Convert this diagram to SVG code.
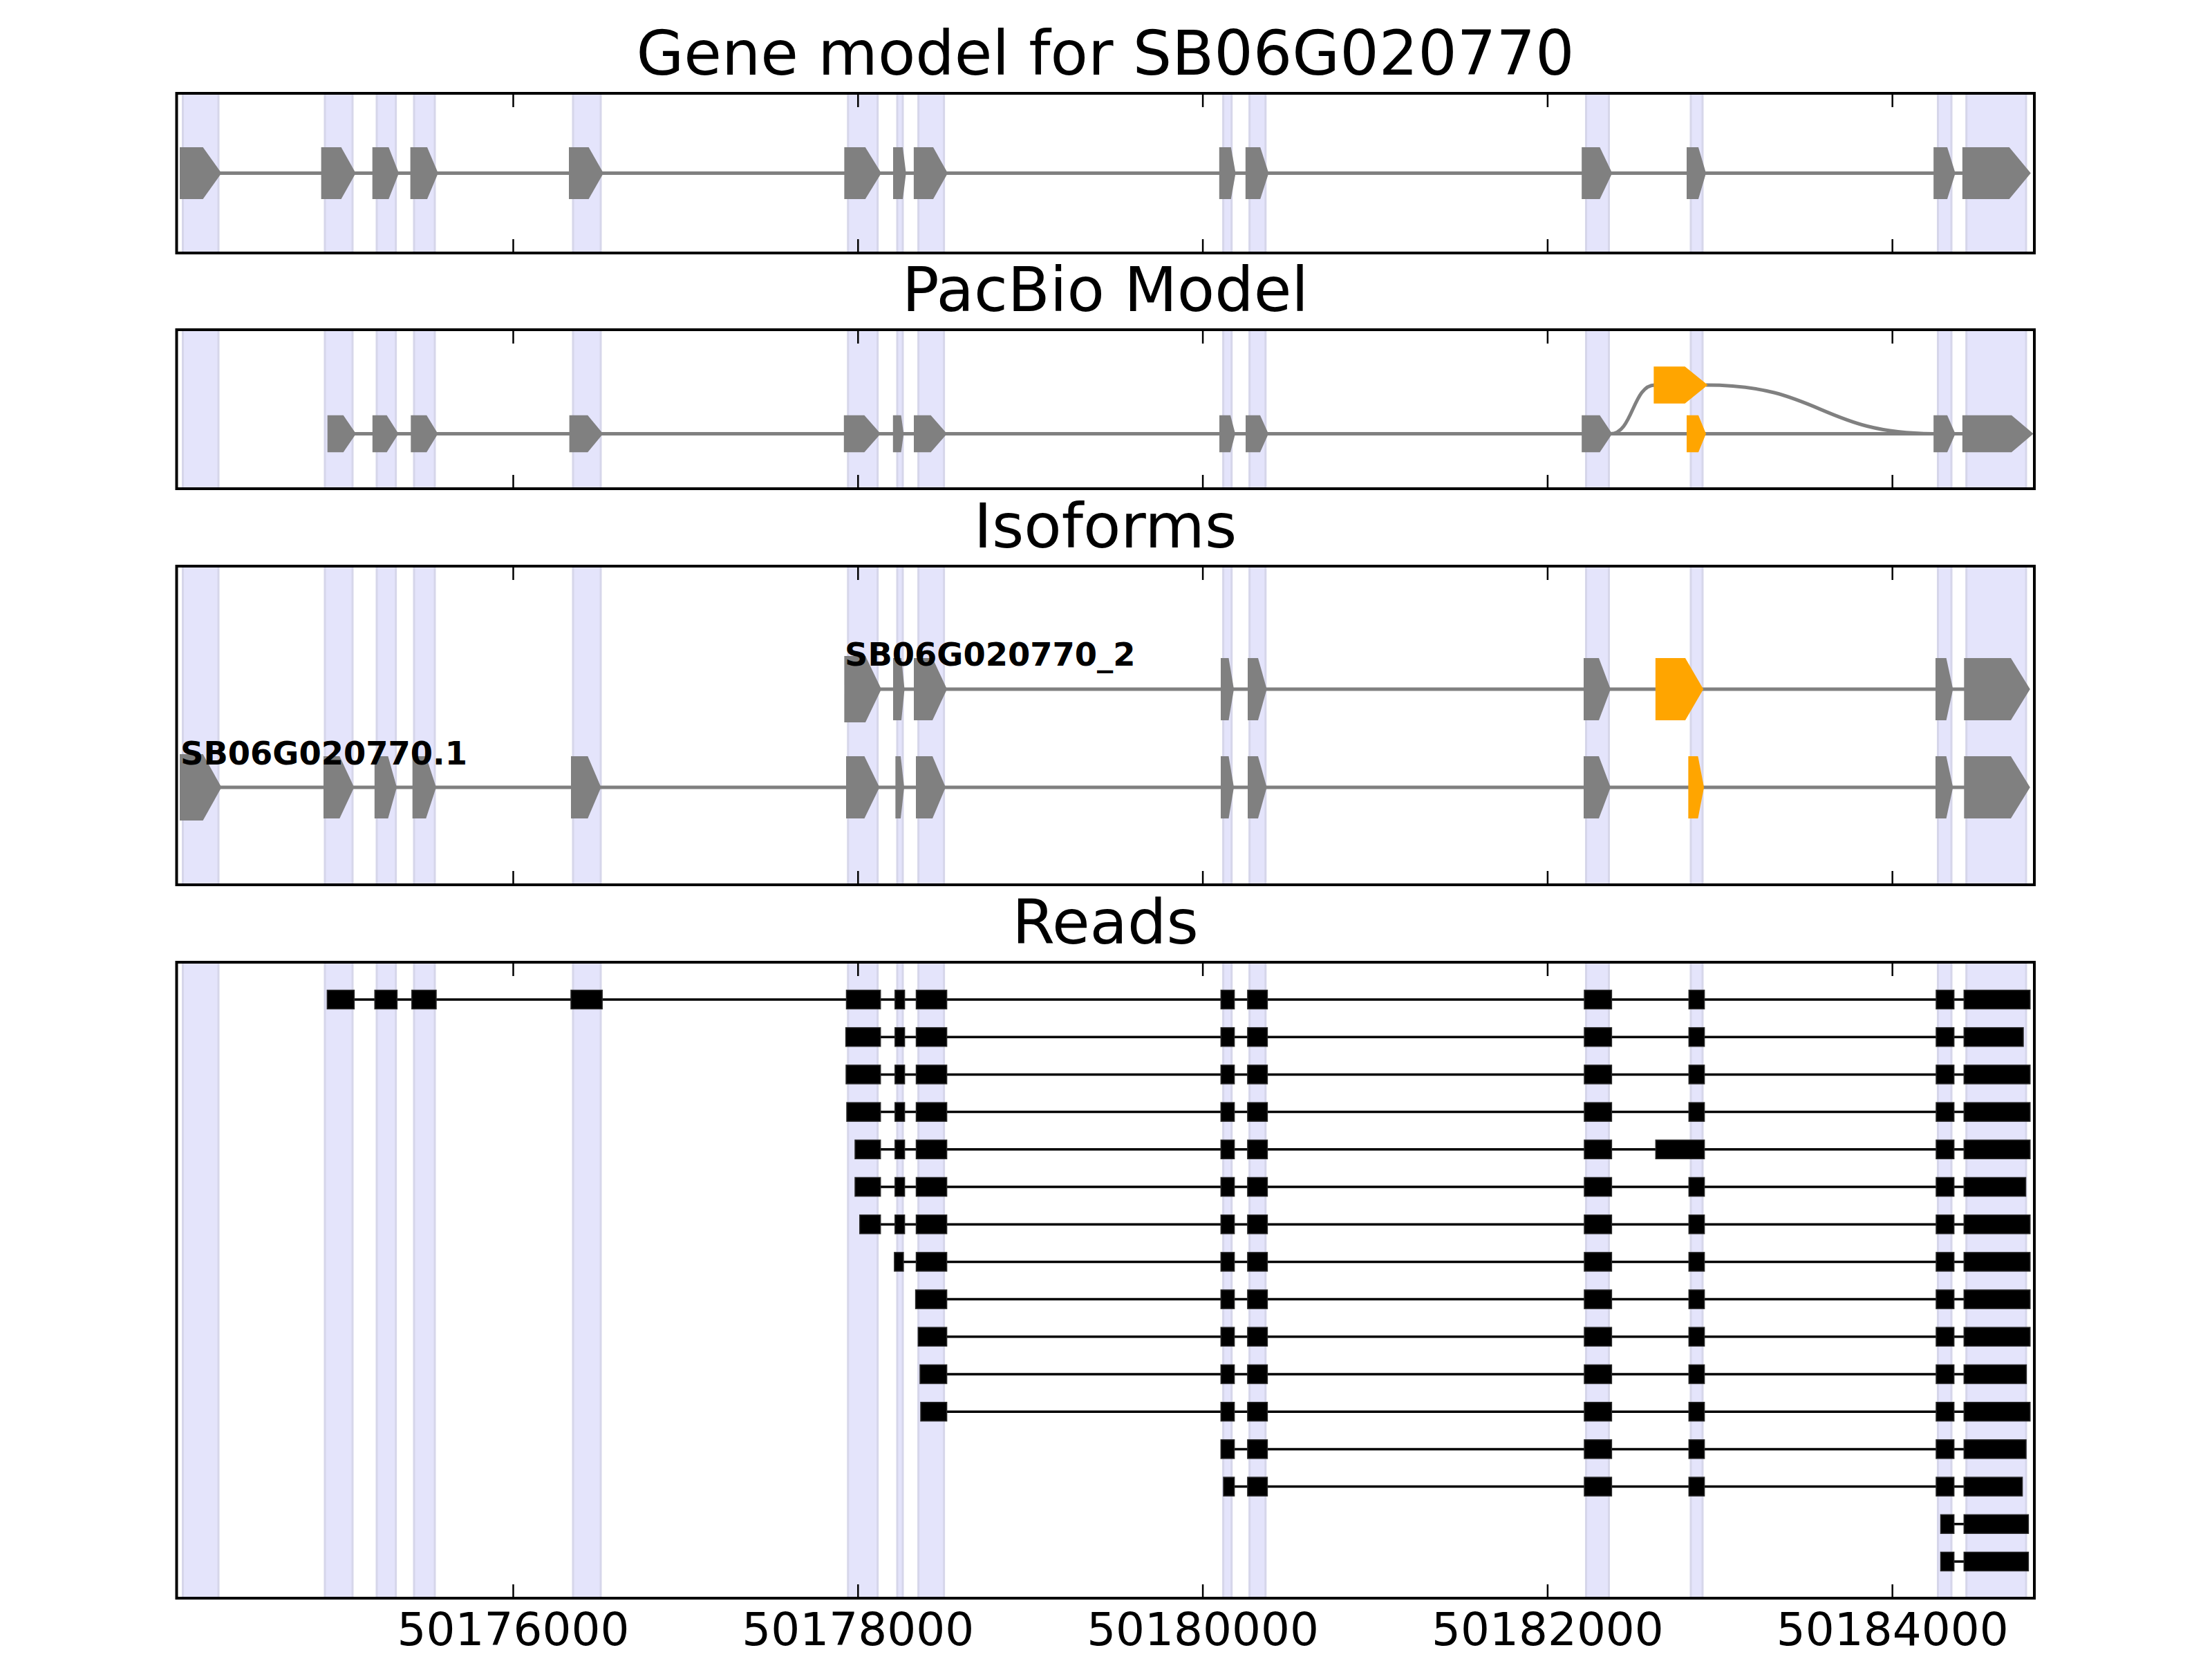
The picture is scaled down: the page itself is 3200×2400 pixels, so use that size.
<svg xmlns="http://www.w3.org/2000/svg" xmlns:xlink="http://www.w3.org/1999/xlink" width="3200" height="2400" viewBox="0 0 3200 2400">
<style>
.band{fill:#e4e4fb;stroke:#d6d6ea;stroke-width:3}
.ex{fill:#808080}
.alt{fill:#ffa500}
.intron{stroke:#808080;stroke-width:5;fill:none}
.rl{stroke:#000;stroke-width:3.5}
.rb{fill:#000;stroke:#262626;stroke-width:1.5}
.frame{fill:none;stroke:#000;stroke-width:4}
.tick{stroke:#000;stroke-width:2.5}
.title{font-family:"DejaVu Sans","Liberation Sans",sans-serif;font-size:88.9px;text-anchor:middle;fill:#000}
.tl{font-family:"DejaVu Sans","Liberation Sans",sans-serif;font-size:66px;text-anchor:middle;fill:#000}
.lab{font-family:"DejaVu Sans","Liberation Sans",sans-serif;font-weight:bold;font-size:46.4px;fill:#000}
</style>
<defs>
<g id="bands">
<rect class="band" x="264.5" y="0" width="51.5" height="2400"/>
<rect class="band" x="470" y="0" width="40" height="2400"/>
<rect class="band" x="545" y="0" width="27.6" height="2400"/>
<rect class="band" x="599" y="0" width="30" height="2400"/>
<rect class="band" x="829" y="0" width="40" height="2400"/>
<rect class="band" x="1226.8" y="0" width="42.8" height="2400"/>
<rect class="band" x="1298" y="0" width="8" height="2400"/>
<rect class="band" x="1328.6" y="0" width="37" height="2400"/>
<rect class="band" x="1769.6" y="0" width="12.1" height="2400"/>
<rect class="band" x="1807.6" y="0" width="23.2" height="2400"/>
<rect class="band" x="2294.5" y="0" width="33" height="2400"/>
<rect class="band" x="2446" y="0" width="17" height="2400"/>
<rect class="band" x="2803.5" y="0" width="19.5" height="2400"/>
<rect class="band" x="2844.7" y="0" width="86.3" height="2400"/>
</g>
<clipPath id="c1"><rect x="255.5" y="135" width="2687.5" height="231"/></clipPath>
<clipPath id="c2"><rect x="255.5" y="477" width="2687.5" height="230"/></clipPath>
<clipPath id="c3"><rect x="255.5" y="819" width="2687.5" height="461"/></clipPath>
<clipPath id="c4"><rect x="255.5" y="1392" width="2687.5" height="920"/></clipPath>
<g id="ticksTop">
<line class="tick" x1="742.5" y1="0" x2="742.5" y2="20"/>
<line class="tick" x1="1241.3" y1="0" x2="1241.3" y2="20"/>
<line class="tick" x1="1740.1" y1="0" x2="1740.1" y2="20"/>
<line class="tick" x1="2238.9" y1="0" x2="2238.9" y2="20"/>
<line class="tick" x1="2737.7" y1="0" x2="2737.7" y2="20"/>
</g>
<g id="ticksBot">
<line class="tick" x1="742.5" y1="-20" x2="742.5" y2="0"/>
<line class="tick" x1="1241.3" y1="-20" x2="1241.3" y2="0"/>
<line class="tick" x1="1740.1" y1="-20" x2="1740.1" y2="0"/>
<line class="tick" x1="2238.9" y1="-20" x2="2238.9" y2="0"/>
<line class="tick" x1="2737.7" y1="-20" x2="2737.7" y2="0"/>
</g>
</defs>
<rect x="0" y="0" width="3200" height="2400" fill="#fff"/>

<!-- Panel 1: Gene model -->
<g id="panel-gene-model">
<text class="title" x="1599" y="108">Gene model for SB06G020770</text>
<use xlink:href="#bands" clip-path="url(#c1)"/>
<g id="gene-model-track" transform="translate(0,250.5)">
<line class="intron" x1="300" y1="0" x2="2900" y2="0"/>
<path class="ex" d="M260,-37.5H293.6L320.4,0L293.6,37.5H260Z"/>
<path class="ex" d="M464.6,-37.5H493.6L514.6,0L493.6,37.5H464.6Z"/>
<path class="ex" d="M538.7,-37.5H562.3L577,0L562.3,37.5H538.7Z"/>
<path class="ex" d="M593.6,-37.5H618L633.8,0L618,37.5H593.6Z"/>
<path class="ex" d="M823,-37.5H851.6L873,0L851.6,37.5H823Z"/>
<path class="ex" d="M1221.4,-37.5H1251.8L1275,0L1251.8,37.5H1221.4Z"/>
<path class="ex" d="M1292,-37.5H1306L1310.7,0L1306,37.5H1292Z"/>
<path class="ex" d="M1321.9,-37.5H1350L1371,0L1350,37.5H1321.9Z"/>
<path class="ex" d="M1763.8,-37.5H1780.8L1787.5,0L1780.8,37.5H1763.8Z"/>
<path class="ex" d="M1801.8,-37.5H1823.2L1835.3,0L1823.2,37.5H1801.8Z"/>
<path class="ex" d="M2288.2,-37.5H2314.4L2332.3,0L2314.4,37.5H2288.2Z"/>
<path class="ex" d="M2440,-37.5H2457L2468,0L2457,37.5H2440Z"/>
<path class="ex" d="M2797.2,-37.5H2817L2828.7,0L2817,37.5H2797.2Z"/>
<path class="ex" d="M2838.9,-37.5H2906.7L2937.8,0L2906.7,37.5H2838.9Z"/>
</g>
<rect class="frame" x="255.5" y="135" width="2687.5" height="231"/>
<use xlink:href="#ticksTop" transform="translate(0,135)"/>
<use xlink:href="#ticksBot" transform="translate(0,366)"/>
</g>

<!-- Panel 2: PacBio model -->
<g id="panel-pacbio">
<text class="title" x="1599" y="450">PacBio Model</text>
<use xlink:href="#bands" clip-path="url(#c2)"/>
<g id="pacbio-connectors">
<line class="intron" x1="500" y1="627.5" x2="2920" y2="627.5"/>
<path class="intron" d="M2330,627.5C2362,627.5 2362,557 2394,557"/>
<path class="intron" d="M2468,557C2634,557 2634,627.5 2799,627.5"/>
</g>
<g id="pacbio-main" transform="translate(0,627.5)">
<path class="ex" d="M473.7,-26.7H496.7L515,0L496.7,26.7H473.7Z"/>
<path class="ex" d="M538.8,-26.7H559.5L576.5,0L559.5,26.7H538.8Z"/>
<path class="ex" d="M594.3,-26.7H617.2L633.5,0L617.2,26.7H594.3Z"/>
<path class="ex" d="M823.6,-26.7H850.2L872.4,0L850.2,26.7H823.6Z"/>
<path class="ex" d="M1220.8,-26.7H1250.4L1274,0L1250.4,26.7H1220.8Z"/>
<path class="ex" d="M1291.8,-26.7H1303.6L1307.3,0L1303.6,26.7H1291.8Z"/>
<path class="ex" d="M1322,-26.7H1346.5L1370,0L1346.5,26.7H1322Z"/>
<path class="ex" d="M1764,-26.7H1780L1787,0L1780,26.7H1764Z"/>
<path class="ex" d="M1802,-26.7H1823L1835,0L1823,26.7H1802Z"/>
<path class="ex" d="M2288.2,-26.7H2314.4L2332.3,0L2314.4,26.7H2288.2Z"/>
<path class="alt" d="M2440,-26.7H2457L2468,0L2457,26.7H2440Z"/>
<path class="ex" d="M2797.2,-26.7H2817L2828.7,0L2817,26.7H2797.2Z"/>
<path class="ex" d="M2838.9,-26.7H2910L2941.6,0L2910,26.7H2838.9Z"/>
</g>
<g id="pacbio-alt" transform="translate(0,557)">
<path class="alt" d="M2392.4,-26.7H2437.5L2470.5,0L2437.5,26.7H2392.4Z"/>
</g>
<rect class="frame" x="255.5" y="477" width="2687.5" height="230"/>
<use xlink:href="#ticksTop" transform="translate(0,477)"/>
<use xlink:href="#ticksBot" transform="translate(0,707)"/>
</g>

<!-- Panel 3: Isoforms -->
<g id="panel-isoforms">
<text class="title" x="1599" y="792">Isoforms</text>
<use xlink:href="#bands" clip-path="url(#c3)"/>
<g id="isoform-2" transform="translate(0,997)">
<line class="intron" x1="1250" y1="0" x2="2920" y2="0"/>
<path class="ex" d="M1221.4,-48H1252L1275,0L1252,48H1221.4Z"/>
<path class="ex" d="M1292,-45H1304L1308.5,0L1304,45H1292Z"/>
<path class="ex" d="M1322,-45H1349L1370,0L1349,45H1322Z"/>
<path class="ex" d="M1766,-45H1777.5L1785,0L1777.5,45H1766Z"/>
<path class="ex" d="M1805,-45H1820L1832.6,0L1820,45H1805Z"/>
<path class="ex" d="M2291,-45H2313L2330,0L2313,45H2291Z"/>
<path class="alt" d="M2394.9,-45H2438L2464.2,0L2438,45H2394.9Z"/>
<path class="ex" d="M2800,-45H2815.6L2825.3,0L2815.6,45H2800Z"/>
<path class="ex" d="M2841.3,-45H2909L2936.8,0L2909,45H2841.3Z"/>
</g>
<g id="isoform-1" transform="translate(0,1139)">
<line class="intron" x1="300" y1="0" x2="2920" y2="0"/>
<path class="ex" d="M260,-48H293.6L320.4,0L293.6,48H260Z"/>
<path class="ex" d="M468,-45H491.3L512.3,0L491.3,45H468Z"/>
<path class="ex" d="M541.8,-45H561.4L574,0L561.4,45H541.8Z"/>
<path class="ex" d="M596.7,-45H616.3L631,0L616.3,45H596.7Z"/>
<path class="ex" d="M826,-45H850.3L869.5,0L850.3,45H826Z"/>
<path class="ex" d="M1224,-45H1250.5L1272.4,0L1250.5,45H1224Z"/>
<path class="ex" d="M1295.4,-45H1303L1308,0L1303,45H1295.4Z"/>
<path class="ex" d="M1325,-45H1349L1368,0L1349,45H1325Z"/>
<path class="ex" d="M1766,-45H1777.5L1785,0L1777.5,45H1766Z"/>
<path class="ex" d="M1805,-45H1820L1832.6,0L1820,45H1805Z"/>
<path class="ex" d="M2291,-45H2313L2330,0L2313,45H2291Z"/>
<path class="alt" d="M2442.4,-45H2456.4L2465.1,0L2456.4,45H2442.4Z"/>
<path class="ex" d="M2800,-45H2815.6L2825.3,0L2815.6,45H2800Z"/>
<path class="ex" d="M2841.3,-45H2909L2936.8,0L2909,45H2841.3Z"/>
</g>
<text class="lab" x="1222" y="963">SB06G020770_2</text>
<text class="lab" x="261" y="1106">SB06G020770.1</text>
<rect class="frame" x="255.5" y="819" width="2687.5" height="461"/>
<use xlink:href="#ticksTop" transform="translate(0,819)"/>
<use xlink:href="#ticksBot" transform="translate(0,1280)"/>
</g>

<!-- Panel 4: Reads -->
<g id="panel-reads">
<text class="title" x="1599" y="1365">Reads</text>
<use xlink:href="#bands" clip-path="url(#c4)"/>
<g id="read-01" transform="translate(0,1446)">
<line class="rl" x1="473.4" y1="0" x2="2936.8" y2="0"/>
<rect class="rb" x="473.4" y="-13.5" width="39" height="27"/>
<rect class="rb" x="542.2" y="-13.5" width="32.2" height="27"/>
<rect class="rb" x="595.8" y="-13.5" width="35.2" height="27"/>
<rect class="rb" x="826" y="-13.5" width="45.2" height="27"/>
<rect class="rb" x="1224.5" y="-13.5" width="49.2" height="27"/>
<rect class="rb" x="1294.8" y="-13.5" width="13.8" height="27"/>
<rect class="rb" x="1325.5" y="-13.5" width="44.1" height="27"/>
<rect class="rb" x="1766.3" y="-13.5" width="19.3" height="27"/>
<rect class="rb" x="1804.9" y="-13.5" width="28.5" height="27"/>
<rect class="rb" x="2292" y="-13.5" width="39.4" height="27"/>
<rect class="rb" x="2443.3" y="-13.5" width="22.3" height="27"/>
<rect class="rb" x="2801" y="-13.5" width="25.7" height="27"/>
<rect class="rb" x="2841.3" y="-13.5" width="95.5" height="27"/>
</g>
<g id="read-02" transform="translate(0,1500.2)">
<line class="rl" x1="1223.6" y1="0" x2="2927" y2="0"/>
<rect class="rb" x="1223.6" y="-13.5" width="50.1" height="27"/>
<rect class="rb" x="1294.8" y="-13.5" width="13.8" height="27"/>
<rect class="rb" x="1325.5" y="-13.5" width="44.1" height="27"/>
<rect class="rb" x="1766.3" y="-13.5" width="19.3" height="27"/>
<rect class="rb" x="1804.9" y="-13.5" width="28.5" height="27"/>
<rect class="rb" x="2292" y="-13.5" width="39.4" height="27"/>
<rect class="rb" x="2443.3" y="-13.5" width="22.3" height="27"/>
<rect class="rb" x="2801" y="-13.5" width="25.7" height="27"/>
<rect class="rb" x="2841.3" y="-13.5" width="85.7" height="27"/>
</g>
<g id="read-03" transform="translate(0,1554.4)">
<line class="rl" x1="1224" y1="0" x2="2936.8" y2="0"/>
<rect class="rb" x="1224" y="-13.5" width="49.7" height="27"/>
<rect class="rb" x="1294.8" y="-13.5" width="13.8" height="27"/>
<rect class="rb" x="1325.5" y="-13.5" width="44.1" height="27"/>
<rect class="rb" x="1766.3" y="-13.5" width="19.3" height="27"/>
<rect class="rb" x="1804.9" y="-13.5" width="28.5" height="27"/>
<rect class="rb" x="2292" y="-13.5" width="39.4" height="27"/>
<rect class="rb" x="2443.3" y="-13.5" width="22.3" height="27"/>
<rect class="rb" x="2801" y="-13.5" width="25.7" height="27"/>
<rect class="rb" x="2841.3" y="-13.5" width="95.5" height="27"/>
</g>
<g id="read-04" transform="translate(0,1608.6)">
<line class="rl" x1="1225" y1="0" x2="2936.8" y2="0"/>
<rect class="rb" x="1225" y="-13.5" width="48.7" height="27"/>
<rect class="rb" x="1294.8" y="-13.5" width="13.8" height="27"/>
<rect class="rb" x="1325.5" y="-13.5" width="44.1" height="27"/>
<rect class="rb" x="1766.3" y="-13.5" width="19.3" height="27"/>
<rect class="rb" x="1804.9" y="-13.5" width="28.5" height="27"/>
<rect class="rb" x="2292" y="-13.5" width="39.4" height="27"/>
<rect class="rb" x="2443.3" y="-13.5" width="22.3" height="27"/>
<rect class="rb" x="2801" y="-13.5" width="25.7" height="27"/>
<rect class="rb" x="2841.3" y="-13.5" width="95.5" height="27"/>
</g>
<g id="read-05" transform="translate(0,1662.8)">
<line class="rl" x1="1237" y1="0" x2="2936.8" y2="0"/>
<rect class="rb" x="1237" y="-13.5" width="36.7" height="27"/>
<rect class="rb" x="1294.8" y="-13.5" width="13.8" height="27"/>
<rect class="rb" x="1325.5" y="-13.5" width="44.1" height="27"/>
<rect class="rb" x="1766.3" y="-13.5" width="19.3" height="27"/>
<rect class="rb" x="1804.9" y="-13.5" width="28.5" height="27"/>
<rect class="rb" x="2292" y="-13.5" width="39.4" height="27"/>
<rect class="rb" x="2395.3" y="-13.5" width="70.3" height="27"/>
<rect class="rb" x="2801" y="-13.5" width="25.7" height="27"/>
<rect class="rb" x="2841.3" y="-13.5" width="95.5" height="27"/>
</g>
<g id="read-06" transform="translate(0,1717)">
<line class="rl" x1="1237" y1="0" x2="2930.5" y2="0"/>
<rect class="rb" x="1237" y="-13.5" width="36.7" height="27"/>
<rect class="rb" x="1294.8" y="-13.5" width="13.8" height="27"/>
<rect class="rb" x="1325.5" y="-13.5" width="44.1" height="27"/>
<rect class="rb" x="1766.3" y="-13.5" width="19.3" height="27"/>
<rect class="rb" x="1804.9" y="-13.5" width="28.5" height="27"/>
<rect class="rb" x="2292" y="-13.5" width="39.4" height="27"/>
<rect class="rb" x="2443.3" y="-13.5" width="22.3" height="27"/>
<rect class="rb" x="2801" y="-13.5" width="25.7" height="27"/>
<rect class="rb" x="2841.3" y="-13.5" width="89.2" height="27"/>
</g>
<g id="read-07" transform="translate(0,1771.2)">
<line class="rl" x1="1243.8" y1="0" x2="2936.8" y2="0"/>
<rect class="rb" x="1243.8" y="-13.5" width="29.9" height="27"/>
<rect class="rb" x="1294.8" y="-13.5" width="13.8" height="27"/>
<rect class="rb" x="1325.5" y="-13.5" width="44.1" height="27"/>
<rect class="rb" x="1766.3" y="-13.5" width="19.3" height="27"/>
<rect class="rb" x="1804.9" y="-13.5" width="28.5" height="27"/>
<rect class="rb" x="2292" y="-13.5" width="39.4" height="27"/>
<rect class="rb" x="2443.3" y="-13.5" width="22.3" height="27"/>
<rect class="rb" x="2801" y="-13.5" width="25.7" height="27"/>
<rect class="rb" x="2841.3" y="-13.5" width="95.5" height="27"/>
</g>
<g id="read-08" transform="translate(0,1825.4)">
<line class="rl" x1="1293.9" y1="0" x2="2936.8" y2="0"/>
<rect class="rb" x="1293.9" y="-13.5" width="13" height="27"/>
<rect class="rb" x="1325.5" y="-13.5" width="44.1" height="27"/>
<rect class="rb" x="1766.3" y="-13.5" width="19.3" height="27"/>
<rect class="rb" x="1804.9" y="-13.5" width="28.5" height="27"/>
<rect class="rb" x="2292" y="-13.5" width="39.4" height="27"/>
<rect class="rb" x="2443.3" y="-13.5" width="22.3" height="27"/>
<rect class="rb" x="2801" y="-13.5" width="25.7" height="27"/>
<rect class="rb" x="2841.3" y="-13.5" width="95.5" height="27"/>
</g>
<g id="read-09" transform="translate(0,1879.6)">
<line class="rl" x1="1324.6" y1="0" x2="2936.8" y2="0"/>
<rect class="rb" x="1324.6" y="-13.5" width="45" height="27"/>
<rect class="rb" x="1766.3" y="-13.5" width="19.3" height="27"/>
<rect class="rb" x="1804.9" y="-13.5" width="28.5" height="27"/>
<rect class="rb" x="2292" y="-13.5" width="39.4" height="27"/>
<rect class="rb" x="2443.3" y="-13.5" width="22.3" height="27"/>
<rect class="rb" x="2801" y="-13.5" width="25.7" height="27"/>
<rect class="rb" x="2841.3" y="-13.5" width="95.5" height="27"/>
</g>
<g id="read-10" transform="translate(0,1933.8)">
<line class="rl" x1="1328.3" y1="0" x2="2936.8" y2="0"/>
<rect class="rb" x="1328.3" y="-13.5" width="41.3" height="27"/>
<rect class="rb" x="1766.3" y="-13.5" width="19.3" height="27"/>
<rect class="rb" x="1804.9" y="-13.5" width="28.5" height="27"/>
<rect class="rb" x="2292" y="-13.5" width="39.4" height="27"/>
<rect class="rb" x="2443.3" y="-13.5" width="22.3" height="27"/>
<rect class="rb" x="2801" y="-13.5" width="25.7" height="27"/>
<rect class="rb" x="2841.3" y="-13.5" width="95.5" height="27"/>
</g>
<g id="read-11" transform="translate(0,1988)">
<line class="rl" x1="1331" y1="0" x2="2931.4" y2="0"/>
<rect class="rb" x="1331" y="-13.5" width="38.6" height="27"/>
<rect class="rb" x="1766.3" y="-13.5" width="19.3" height="27"/>
<rect class="rb" x="1804.9" y="-13.5" width="28.5" height="27"/>
<rect class="rb" x="2292" y="-13.5" width="39.4" height="27"/>
<rect class="rb" x="2443.3" y="-13.5" width="22.3" height="27"/>
<rect class="rb" x="2801" y="-13.5" width="25.7" height="27"/>
<rect class="rb" x="2841.3" y="-13.5" width="90.1" height="27"/>
</g>
<g id="read-12" transform="translate(0,2042.2)">
<line class="rl" x1="1332" y1="0" x2="2936.8" y2="0"/>
<rect class="rb" x="1332" y="-13.5" width="37.6" height="27"/>
<rect class="rb" x="1766.3" y="-13.5" width="19.3" height="27"/>
<rect class="rb" x="1804.9" y="-13.5" width="28.5" height="27"/>
<rect class="rb" x="2292" y="-13.5" width="39.4" height="27"/>
<rect class="rb" x="2443.3" y="-13.5" width="22.3" height="27"/>
<rect class="rb" x="2801" y="-13.5" width="25.7" height="27"/>
<rect class="rb" x="2841.3" y="-13.5" width="95.5" height="27"/>
</g>
<g id="read-13" transform="translate(0,2096.4)">
<line class="rl" x1="1766.3" y1="0" x2="2931" y2="0"/>
<rect class="rb" x="1766.3" y="-13.5" width="19.3" height="27"/>
<rect class="rb" x="1804.9" y="-13.5" width="28.5" height="27"/>
<rect class="rb" x="2292" y="-13.5" width="39.4" height="27"/>
<rect class="rb" x="2443.3" y="-13.5" width="22.3" height="27"/>
<rect class="rb" x="2801" y="-13.5" width="25.7" height="27"/>
<rect class="rb" x="2841.3" y="-13.5" width="89.7" height="27"/>
</g>
<g id="read-14" transform="translate(0,2150.6)">
<line class="rl" x1="1770" y1="0" x2="2925.6" y2="0"/>
<rect class="rb" x="1770" y="-13.5" width="15.6" height="27"/>
<rect class="rb" x="1804.9" y="-13.5" width="28.5" height="27"/>
<rect class="rb" x="2292" y="-13.5" width="39.4" height="27"/>
<rect class="rb" x="2443.3" y="-13.5" width="22.3" height="27"/>
<rect class="rb" x="2801" y="-13.5" width="25.7" height="27"/>
<rect class="rb" x="2841.3" y="-13.5" width="84.3" height="27"/>
</g>
<g id="read-15" transform="translate(0,2204.8)">
<line class="rl" x1="2807.5" y1="0" x2="2934.4" y2="0"/>
<rect class="rb" x="2807.5" y="-13.5" width="19.2" height="27"/>
<rect class="rb" x="2841.3" y="-13.5" width="93.1" height="27"/>
</g>
<g id="read-16" transform="translate(0,2259)">
<line class="rl" x1="2807.5" y1="0" x2="2934.4" y2="0"/>
<rect class="rb" x="2807.5" y="-13.5" width="19.2" height="27"/>
<rect class="rb" x="2841.3" y="-13.5" width="93.1" height="27"/>
</g>
<rect class="frame" x="255.5" y="1392" width="2687.5" height="920"/>
<use xlink:href="#ticksTop" transform="translate(0,1392)"/>
<use xlink:href="#ticksBot" transform="translate(0,2312)"/>
</g>

<g id="x-axis-labels">
<text class="tl" x="742.5" y="2380">50176000</text>
<text class="tl" x="1241.3" y="2380">50178000</text>
<text class="tl" x="1740.1" y="2380">50180000</text>
<text class="tl" x="2238.9" y="2380">50182000</text>
<text class="tl" x="2737.7" y="2380">50184000</text>
</g>
</svg>
